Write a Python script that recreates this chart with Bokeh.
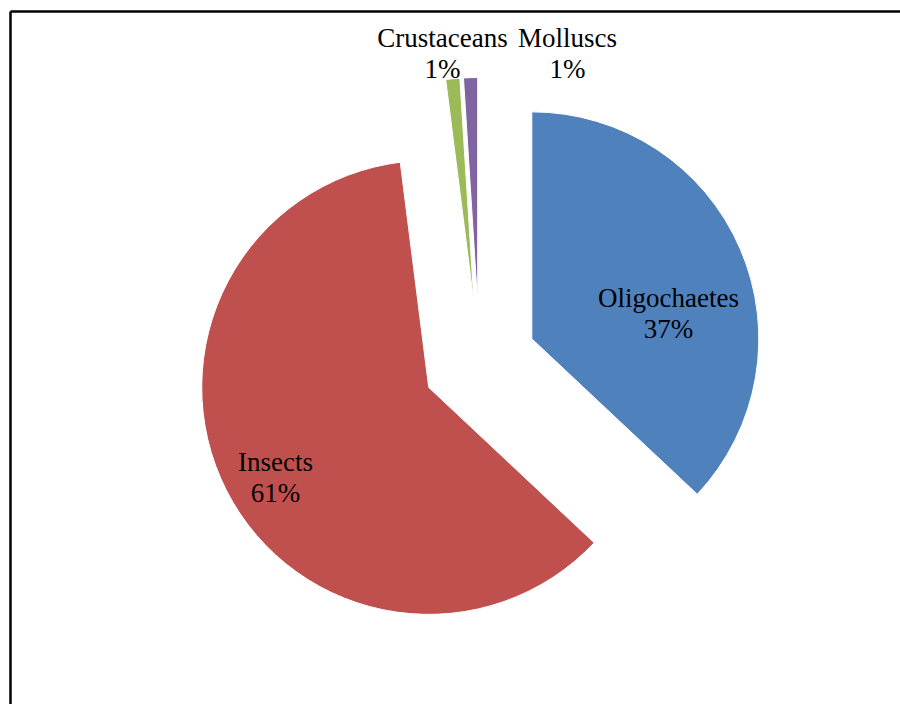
import math
from bokeh.plotting import figure
from bokeh.models import ColumnDataSource, Range1d
from bokeh.core.properties import value
from bokeh.embed import file_html
from bokeh.resources import INLINE

# ---- data ----
categories = ["Oligochaetes", "Insects", "Crustaceans", "Molluscs"]
shares = [37, 61, 1, 1]
colors = ["#4F81BD", "#C0504D", "#9BBB59", "#8064A2"]

# ---- layout (pixels) ----
W, H = 900, 704
CX, CY = 479, 343          # pie centre
R = 227                    # radius
EXPLODE = 57               # explosion distance
# label block centres relative to pie centre
label_offsets = [(189, 48), (-204, -116), (-37, 308), (88, 308)]
LINE_GAP = 31
FONT = "Liberation Serif"
FSIZE = "27px"

total = sum(shares)
start_a, end_a, xs, ys, labx, laby1, laby2, pct = [], [], [], [], [], [], [], []
cum = 0.0
for i, v in enumerate(shares):
    t1 = cum / total * 2 * math.pi            # clockwise from 12 o'clock
    t2 = (cum + v) / total * 2 * math.pi
    cum += v
    tm = (t1 + t2) / 2
    xs.append(CX + EXPLODE * math.sin(tm))
    ys.append(CY + EXPLODE * math.cos(tm))
    start_a.append(math.pi / 2 - t2)
    end_a.append(math.pi / 2 - t1)
    dx, dy = label_offsets[i]
    labx.append(CX + dx)
    laby1.append(CY + dy + LINE_GAP / 2)
    laby2.append(CY + dy - LINE_GAP / 2)
    pct.append(f"{round(v / total * 100)}%")

src = ColumnDataSource(dict(x=xs, y=ys, start=start_a, end=end_a, color=colors,
                            name=categories, pct=pct, lx=labx, ly1=laby1, ly2=laby2))

p = figure(width=W, height=H, output_backend="svg", toolbar_location=None,
           x_range=Range1d(0, W), y_range=Range1d(0, H), min_border=0)
p.axis.visible = False
p.grid.visible = False
p.outline_line_color = None
p.background_fill_color = "white"
p.border_fill_color = "white"

# chart frame (only top and left edges visible in the window)
p.segment(x0=[10, 10], y0=[693, 693], x1=[10, 2000], y1=[-100, 693],
          line_color="black", line_width=2.5)

p.wedge(x="x", y="y", radius=R, start_angle="start", end_angle="end",
        fill_color="color", line_color="white", line_width=1, source=src)

p.text(x="lx", y="ly1", text="name", source=src, text_align="center",
       text_baseline="middle", text_font=value(FONT), text_font_size=FSIZE,
       text_color="black")
p.text(x="lx", y="ly2", text="pct", source=src, text_align="center",
       text_baseline="middle", text_font=value(FONT), text_font_size=FSIZE,
       text_color="black")

open("out.html", "w").write(file_html(p, INLINE))
